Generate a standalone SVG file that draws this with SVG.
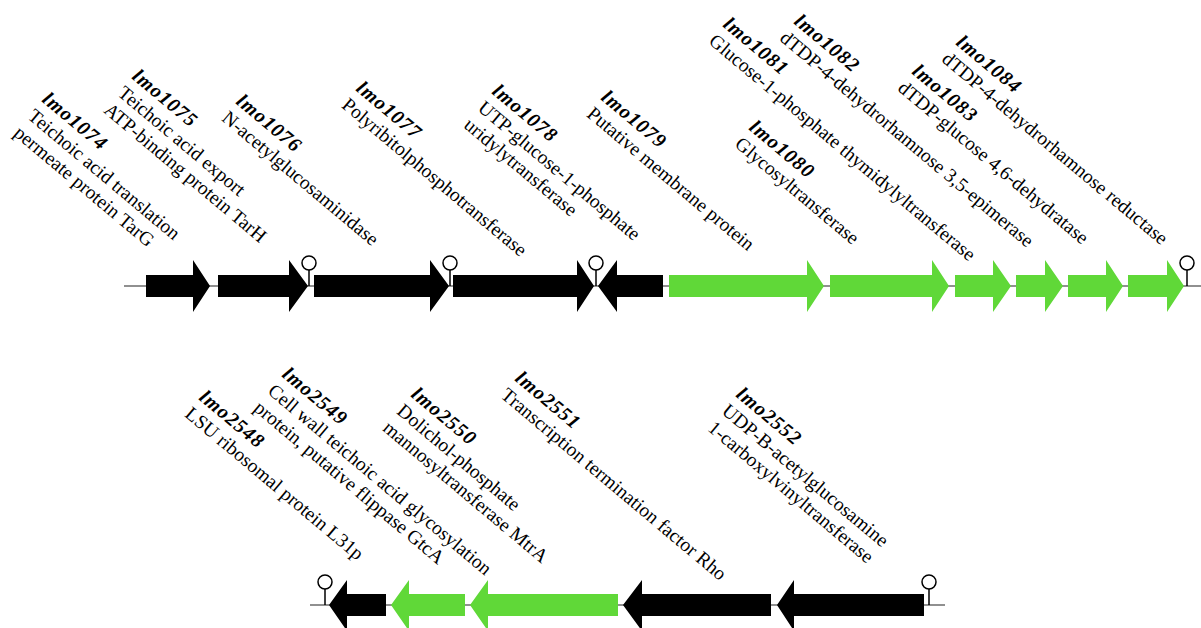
<svg xmlns="http://www.w3.org/2000/svg" width="1201" height="628" viewBox="0 0 1201 628">
<style>
text{font-family:"Liberation Serif","Times New Roman",serif;font-size:19.5px;fill:#000}
.b{font-weight:bold;font-style:italic;letter-spacing:1px;font-size:20px}
.k{fill:#000}
.g{fill:#60d838}
.bb{stroke:#222;stroke-width:1.2;fill:none}
.t line{stroke:#000;stroke-width:1.5}
.t circle{stroke:#000;stroke-width:1.5;fill:#fff}
</style>
<rect width="1201" height="628" fill="#fff"/>
<g id="connectors">
<line class="bb" x1="124" y1="286" x2="1201" y2="286"/>
<line class="bb" x1="310" y1="605" x2="945" y2="605"/>
</g>
<g id="terminators" class="t">
<line x1="309" y1="286" x2="309" y2="270"/><circle cx="309" cy="263" r="7"/>
<line x1="450" y1="286" x2="450" y2="270"/><circle cx="450" cy="263" r="7"/>
<line x1="596" y1="286" x2="596" y2="270"/><circle cx="596" cy="263" r="7"/>
<line x1="1187" y1="286" x2="1187" y2="270"/><circle cx="1187" cy="263" r="7"/>
<line x1="325" y1="605" x2="325" y2="589"/><circle cx="325" cy="582" r="7"/>
<line x1="929" y1="605" x2="929" y2="589"/><circle cx="929" cy="582" r="7"/>
</g>
<g id="lmo1074"><polygon class="k" points="146,275 193,275 193,260 210,286 193,312 193,297 146,297"/>
<text transform="translate(41,101) rotate(40)"><tspan class="b">lmo1074</tspan><tspan x="0" dy="22">Teichoic acid translation</tspan><tspan x="0" dy="22">permeate protein TarG</tspan></text></g>
<g id="lmo1075"><polygon class="k" points="218,275 289,275 289,260 308,286 289,312 289,297 218,297"/>
<text transform="translate(131,78) rotate(40)"><tspan class="b">lmo1075</tspan><tspan x="0" dy="22">Teichoic acid export</tspan><tspan x="0" dy="22">ATP-binding protein TarH</tspan></text></g>
<g id="lmo1076"><polygon class="k" points="314,275 430,275 430,260 449,286 430,312 430,297 314,297"/>
<text transform="translate(235,103) rotate(40)"><tspan class="b">lmo1076</tspan><tspan x="0" dy="22">N-acetylglucosaminidase</tspan></text></g>
<g id="lmo1077"><polygon class="k" points="453,275 577,275 577,260 594,286 577,312 577,297 453,297"/>
<text transform="translate(355,90) rotate(40)"><tspan class="b">lmo1077</tspan><tspan x="0" dy="22">Polyribitolphosphotransferase</tspan></text></g>
<g id="lmo1078"><polygon class="k" points="663,275 617,275 617,260 598,286 617,312 617,297 663,297"/>
<text transform="translate(491,93) rotate(40)"><tspan class="b">lmo1078</tspan><tspan x="0" dy="22">UTP-glucose-1-phosphate</tspan><tspan x="0" dy="22">uridylytransferase</tspan></text></g>
<g id="lmo1079"><polygon class="g" points="669,275 807,275 807,260 824,286 807,312 807,297 669,297"/>
<text transform="translate(600,99) rotate(40)"><tspan class="b">lmo1079</tspan><tspan x="0" dy="22">Putative membrane protein</tspan></text></g>
<g id="lmo1080"><polygon class="g" points="830,275 932,275 932,260 949,286 932,312 932,297 830,297"/>
<text transform="translate(748,129) rotate(40)"><tspan class="b">lmo1080</tspan><tspan x="0" dy="22">Glycosyltransferase</tspan></text></g>
<g id="lmo1081"><polygon class="g" points="955,275 993,275 993,260 1011,286 993,312 993,297 955,297"/>
<text transform="translate(722,26) rotate(40)"><tspan class="b">lmo1081</tspan><tspan x="0" dy="22">Glucose-1-phosphate thymidylyltransferase</tspan></text></g>
<g id="lmo1082"><polygon class="g" points="1016,275 1045,275 1045,260 1063,286 1045,312 1045,297 1016,297"/>
<text transform="translate(793,23) rotate(40)"><tspan class="b">lmo1082</tspan><tspan x="0" dy="22">dTDP-4-dehydrorhamnose 3,5-epimerase</tspan></text></g>
<g id="lmo1083"><polygon class="g" points="1068,275 1106,275 1106,260 1123,286 1106,312 1106,297 1068,297"/>
<text transform="translate(911,73) rotate(40)"><tspan class="b">lmo1083</tspan><tspan x="0" dy="22">dTDP-glucose 4,6-dehydratase</tspan></text></g>
<g id="lmo1084"><polygon class="g" points="1128,275 1167,275 1167,260 1184,286 1167,312 1167,297 1128,297"/>
<text transform="translate(955,44) rotate(40)"><tspan class="b">lmo1084</tspan><tspan x="0" dy="22">dTDP-4-dehydrorhamnose reductase</tspan></text></g>
<g id="lmo2548"><polygon class="k" points="386,594 347,594 347,580 329,605 347,631 347,616 386,616"/>
<text transform="translate(198,399) rotate(40)"><tspan class="b">lmo2548</tspan><tspan x="0" dy="22">LSU ribosomal protein L31p</tspan></text></g>
<g id="lmo2549"><polygon class="g" points="465,594 409,594 409,580 391,605 409,631 409,616 465,616"/>
<text transform="translate(281,376) rotate(40)"><tspan class="b">lmo2549</tspan><tspan x="0" dy="22">Cell wall teichoic acid glycosylation</tspan><tspan x="0" dy="22">protein, putative flippase GtcA</tspan></text></g>
<g id="lmo2550"><polygon class="g" points="618,594 488,594 488,580 470,605 488,631 488,616 618,616"/>
<text transform="translate(410,396) rotate(40)"><tspan class="b">lmo2550</tspan><tspan x="0" dy="22">Dolichol-phosphate</tspan><tspan x="0" dy="22">mannosyltransferase MtrA</tspan></text></g>
<g id="lmo2551"><polygon class="k" points="771,594 642,594 642,580 623,605 642,631 642,616 771,616"/>
<text transform="translate(514,380) rotate(40)"><tspan class="b">lmo2551</tspan><tspan x="0" dy="22">Transcription termination factor Rho</tspan></text></g>
<g id="lmo2552"><polygon class="k" points="924,594 794,594 794,580 777,605 794,631 794,616 924,616"/>
<text transform="translate(735,396) rotate(40)"><tspan class="b">lmo2552</tspan><tspan x="0" dy="22">UDP-B-acetylglucosamine</tspan><tspan x="0" dy="22">1-carboxylvinyltransferase</tspan></text></g>
</svg>
